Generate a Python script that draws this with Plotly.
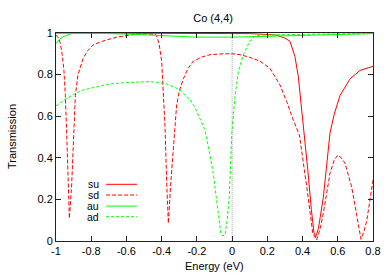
import plotly.graph_objects as go

# ---- data ----
su_x = [-1.0, -0.6, -0.2, 0.0, 0.1, 0.2, 0.253, 0.3, 0.329, 0.357, 0.376, 0.395, 0.414,
        0.43, 0.45, 0.465, 0.475, 0.49, 0.518, 0.537, 0.556, 0.58, 0.613, 0.67, 0.726, 0.8]
su_y = [1.0, 1.0, 1.0, 0.999, 0.997, 0.993, 0.99, 0.975, 0.96, 0.886, 0.79, 0.63, 0.486,
        0.34, 0.15, 0.04, 0.02, 0.06, 0.21, 0.375, 0.52, 0.61, 0.70, 0.78, 0.82, 0.84]

sd_x = [-1.0, -0.985, -0.977, -0.965, -0.955, -0.947, -0.939, -0.93, -0.924, -0.911, -0.898,
        -0.89, -0.875, -0.864, -0.845, -0.82, -0.788, -0.72, -0.655, -0.54, -0.46, -0.43,
        -0.415, -0.40, -0.39, -0.381, -0.371, -0.362, -0.349, -0.33, -0.315, -0.30, -0.277,
        -0.25, -0.22, -0.17, -0.125, -0.05, 0.007, 0.05, 0.10, 0.158, 0.215, 0.272, 0.31,
        0.348, 0.382, 0.424, 0.458, 0.48, 0.50, 0.518, 0.556, 0.58, 0.60, 0.62, 0.641,
        0.679, 0.707, 0.732, 0.75, 0.765, 0.8]
sd_y = [0.99, 0.975, 0.955, 0.90, 0.82, 0.70, 0.51, 0.27, 0.109, 0.27, 0.51,
        0.70, 0.80, 0.83, 0.88, 0.915, 0.944, 0.965, 0.98, 0.995, 0.995, 0.99,
        0.95, 0.865, 0.72, 0.55, 0.27, 0.085, 0.27, 0.51, 0.655, 0.72, 0.78,
        0.83, 0.865, 0.885, 0.896, 0.90, 0.90, 0.895, 0.883, 0.865, 0.83, 0.75, 0.67,
        0.58, 0.51, 0.26, 0.037, 0.005, 0.06, 0.134, 0.326, 0.39, 0.413, 0.40, 0.374,
        0.26, 0.117, 0.008, 0.05, 0.10, 0.293]

au_x = [-1.0, -0.98, -0.96, -0.94, -0.92, -0.9, -0.8, -0.6, -0.4, -0.2, 0.0, 0.2, 0.4, 0.6, 0.8]
au_y = [0.95, 0.97, 0.982, 0.99, 0.995, 0.998, 0.999, 0.995, 0.986, 0.98, 0.98, 0.985, 0.99, 0.994, 0.997]

ad_x = [-1.0, -0.95, -0.9, -0.845, -0.75, -0.693, -0.6, -0.504, -0.466, -0.42, -0.371, -0.33,
        -0.296, -0.277, -0.239, -0.21, -0.182, -0.154, -0.13, -0.107, -0.09, -0.078, -0.063,
        -0.052, -0.04, -0.028, -0.016, -0.002, 0.017, 0.036, 0.064, 0.10, 0.13, 0.158, 0.3,
        0.5, 0.8]
ad_y = [0.65, 0.68, 0.705, 0.726, 0.745, 0.755, 0.762, 0.766, 0.766, 0.762, 0.755, 0.74,
        0.727, 0.71, 0.68, 0.64, 0.59, 0.534, 0.43, 0.325, 0.21, 0.134, 0.03,
        0.025, 0.03, 0.10, 0.213, 0.515, 0.70, 0.816, 0.896, 0.96, 0.985, 0.99, 0.993,
        0.995, 0.998]

series = [
    ("su", su_x, su_y, "#ff0000", "solid"),
    ("sd", sd_x, sd_y, "#ff0000", "4px,2px"),
    ("au", au_x, au_y, "#00ff00", "solid"),
    ("ad", ad_x, ad_y, "#00ff00", "3px,2px"),
]

x_ticks = [-1, -0.8, -0.6, -0.4, -0.2, 0, 0.2, 0.4, 0.6, 0.8]
x_labels = ["-1", "-0.8", "-0.6", "-0.4", "-0.2", "0", "0.2", "0.4", "0.6", "0.8"]
y_ticks = [0, 0.2, 0.4, 0.6, 0.8, 1]
y_labels = ["0", "0.2", "0.4", "0.6", "0.8", "1"]

FONT = "Liberation Sans, Arial, sans-serif"

fig = go.Figure()

# zero axis (dotted grey)
fig.add_trace(go.Scatter(x=[0, 0], y=[0, 1], mode="lines",
                         line=dict(color="#b0b0b0", width=1, dash="1px,1px"),
                         showlegend=False, hoverinfo="skip"))

for name, xs, ys, col, dash in series:
    fig.add_trace(go.Scatter(x=xs, y=ys, mode="lines", name=name,
                             line=dict(color=col, width=1, dash=dash),
                             showlegend=False))

# custom gnuplot-style legend (text left of sample)
leg_y = [0.2726, 0.221, 0.168, 0.117]
for (name, xs, ys, col, dash), yy in zip(series, leg_y):
    fig.add_annotation(x=0.139, y=yy, xref="paper", yref="paper", text=name,
                       showarrow=False, xanchor="right", yanchor="middle", borderpad=0,
                       font=dict(family=FONT, size=10.5, color="#000000"))
    fig.add_shape(type="line", xref="paper", yref="paper", x0=0.158, x1=0.2555,
                  y0=yy, y1=yy, line=dict(color=col, width=1, dash=dash))

axis_common = dict(showline=True, linecolor="#222222", linewidth=1, mirror="ticks",
                   ticks="inside", ticklen=5, tickcolor="#222222", showgrid=False,
                   zeroline=False, automargin=False,
                   tickfont=dict(family=FONT, size=11, color="#000000"))

fig.update_xaxes(range=[-1, 0.8], tickvals=x_ticks, ticktext=x_labels, **axis_common)
fig.update_yaxes(range=[0, 1], tickvals=y_ticks, ticktext=y_labels, **axis_common)

# axis titles as annotations (gnuplot placement)
fig.add_annotation(x=0.5, y=-25 / 208, xref="paper", yref="paper",
                   text="Energy (eV)", showarrow=False, xanchor="center",
                   yanchor="middle",
                   font=dict(family=FONT, size=11, color="#000000"))
fig.add_annotation(x=-44 / 317, y=0.5, xref="paper", yref="paper",
                   text="Transmission", showarrow=False, textangle=-90,
                   xanchor="center", yanchor="middle",
                   font=dict(family=FONT, size=11, color="#000000"))

fig.update_layout(
    width=391, height=274,
    margin=dict(l=56, r=18, t=33, b=33),
    paper_bgcolor="white", plot_bgcolor="white",
    title=dict(text="Co (4,4)", x=0.545, xanchor="center", y=1 - 18 / 274,
               yanchor="middle", font=dict(family=FONT, size=11, color="#000000")),
    font=dict(family=FONT, size=11),
)

fig.write_html("out.html",
               config={"displayModeBar": False},
               post_script="document.body.style.margin='0';document.body.style.overflow='hidden';")
